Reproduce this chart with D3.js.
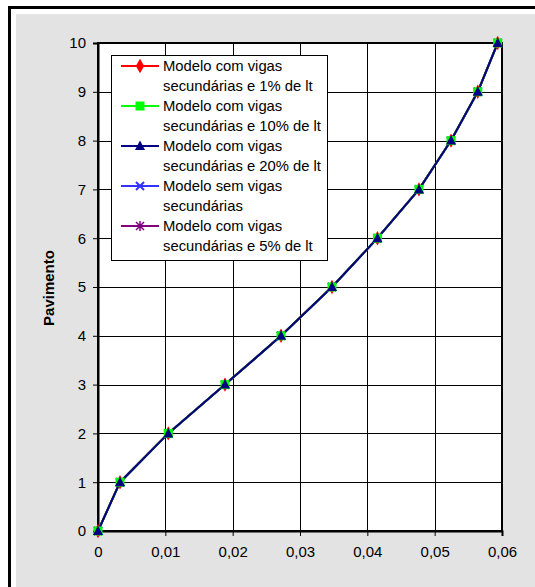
<!DOCTYPE html>
<html><head><meta charset="utf-8">
<script src="https://cdn.jsdelivr.net/npm/d3@7"></script>
<style>body{margin:0;background:#fff;} svg{display:block;font-family:Arial,"Liberation Sans",sans-serif;}</style>
</head><body>
<script>
const pavimentos = [0,1,2,3,4,5,6,7,8,9,10];
const desl1pct  = [0,0.00327,0.01044,0.01886,0.02718,0.03475,0.0415,0.04767,0.05243,0.0564,0.05936];
const desl10pct = [0,0.00327,0.01044,0.01886,0.02718,0.03475,0.0415,0.04767,0.05243,0.0564,0.05936];
const desl20pct = [0,0.00327,0.01044,0.01886,0.02718,0.03475,0.0415,0.04767,0.05243,0.0564,0.05936];
const deslSem   = [0,0.00327,0.01044,0.01886,0.02718,0.03475,0.0415,0.04767,0.05243,0.0564,0.05936];
const desl5pct  = [0,0.00327,0.01044,0.01886,0.02718,0.03475,0.0415,0.04767,0.05243,0.0564,0.05936];
const xTicks = [0,0.01,0.02,0.03,0.04,0.05,0.06];
const yTicks = [0,1,2,3,4,5,6,7,8,9,10];
const seriesNames = [
  ["Modelo com vigas","secundárias e 1% de lt"],
  ["Modelo com vigas","secundárias e 10% de lt"],
  ["Modelo com vigas","secundárias e 20% de lt"],
  ["Modelo sem vigas","secundárias"],
  ["Modelo com vigas","secundárias e 5% de lt"]
];
const series = [
  {name:seriesNames[0], values:desl1pct,  color:"#ff0000", marker:"diamond"},
  {name:seriesNames[1], values:desl10pct, color:"#00ff00", marker:"square"},
  {name:seriesNames[2], values:desl20pct, color:"#000080", marker:"triangle"},
  {name:seriesNames[3], values:deslSem,   color:"#3333ff", marker:"x"},
  {name:seriesNames[4], values:desl5pct,  color:"#800080", marker:"star"}
];

const W=535,H=587;
const svg=d3.select("body").append("svg").attr("width",W).attr("height",H);
// outer frame
svg.append("rect").attr("x",16).attr("y",14).attr("width",W-16).attr("height",H-14).attr("fill","#e3e3e3");
svg.append("line").attr("x1",9).attr("x2",W).attr("y1",7.5).attr("y2",7.5).attr("stroke","#000").attr("stroke-width",3);
svg.append("line").attr("x1",9.5).attr("x2",9.5).attr("y1",6).attr("y2",H).attr("stroke","#000").attr("stroke-width",3);

const L=98,R=502,T=43,B=531;
const x=d3.scaleLinear().domain([0,0.06]).range([L,R]);
const y=d3.scaleLinear().domain([0,10]).range([B,T]);
const fmt=d=>d===0?"0":d3.format(".2f")(d).replace(".",",");

svg.append("rect").attr("x",L).attr("y",T).attr("width",R-L).attr("height",B-T).attr("fill","#fff");
// grid
const g=svg.append("g");
g.selectAll(".vg").data(xTicks).enter().append("line")
  .attr("x1",d=>Math.round(x(d))+0.5).attr("x2",d=>Math.round(x(d))+0.5).attr("y1",T).attr("y2",B)
  .attr("stroke","#000").attr("stroke-width",1);
g.selectAll(".hg").data(yTicks).enter().append("line")
  .attr("y1",d=>Math.round(y(d))+0.5).attr("y2",d=>Math.round(y(d))+0.5).attr("x1",L).attr("x2",R)
  .attr("stroke","#000").attr("stroke-width",1);
// border
svg.append("rect").attr("x",L).attr("y",T).attr("width",R-L).attr("height",B-T).attr("fill","none").attr("stroke","#000").attr("stroke-width",2);

// axes
const xAxis=svg.append("g").attr("transform",`translate(0,${B})`)
  .call(d3.axisBottom(x).tickValues(xTicks).tickFormat(fmt).tickSize(5).tickPadding(10));
const yAxis=svg.append("g").attr("transform",`translate(${L},0)`)
  .call(d3.axisLeft(y).tickValues(yTicks).tickFormat(d3.format("d")).tickSize(5).tickPadding(7));
[xAxis,yAxis].forEach(a=>{
  a.select(".domain").attr("stroke","#000").attr("stroke-width",2);
  a.selectAll(".tick line").attr("stroke","#000");
  a.selectAll("text").attr("font-family","Arial, 'Liberation Sans', sans-serif").attr("font-size",15).attr("fill","#000");
});

svg.append("text").attr("transform","translate(54,288) rotate(-90)").attr("text-anchor","middle")
  .attr("font-size",15).attr("font-weight","bold").text("Pavimento");

function drawMarker(sel,type,color){
  if(type==="diamond") sel.append("path").attr("d",d3.symbol(d3.symbolDiamond,60)()).attr("fill",color);
  else if(type==="square") sel.append("rect").attr("x",-4.5).attr("y",-4.5).attr("width",9).attr("height",9).attr("fill",color);
  else if(type==="triangle") sel.append("path").attr("d","M0,-5.5L5,4L-5,4Z").attr("fill",color);
  else if(type==="x") sel.append("path").attr("d","M-4,-4L4,4M-4,4L4,-4").attr("stroke",color).attr("stroke-width",2).attr("fill","none");
  else if(type==="star") sel.append("path").attr("d","M-4,-4L4,4M-4,4L4,-4M0,-5L0,5").attr("stroke",color).attr("stroke-width",1.5).attr("fill","none");
}

const line=d3.line().x(d=>x(d[0])).y(d=>y(d[1]));
const drawOrder=[3,4,0,1,2];
drawOrder.forEach(i=>{
  const s=series[i];
  const pts=s.values.map((v,k)=>[v,pavimentos[k]]);
  svg.append("path").datum(pts).attr("d",line).attr("fill","none").attr("stroke",s.color).attr("stroke-width",2);
});
drawOrder.forEach(i=>{
  const s=series[i];
  const pts=s.values.map((v,k)=>[v,pavimentos[k]]);
  pts.forEach(p=>{
    const m=svg.append("g").attr("transform",`translate(${x(p[0])},${y(p[1])})`);
    drawMarker(m,s.marker,s.color);
  });
});

// legend
const lg=svg.append("g");
lg.append("rect").attr("x",111.5).attr("y",55.5).attr("width",216).attr("height",205).attr("fill","#fff").attr("stroke","#000").attr("stroke-width",1);
series.forEach((s,i)=>{
  const cy=66+i*40;
  lg.append("line").attr("x1",121).attr("x2",159).attr("y1",cy).attr("y2",cy).attr("stroke",s.color).attr("stroke-width",2);
  const m=lg.append("g").attr("transform",`translate(140,${cy})`);
  drawMarker(m,s.marker,s.color);
  s.name.forEach((t,j)=>{
    lg.append("text").attr("x",163).attr("y",cy+j*19.5).attr("dy","0.35em").attr("font-size",14.8).attr("fill","#000").text(t);
  });
});
</script>
</body></html>
